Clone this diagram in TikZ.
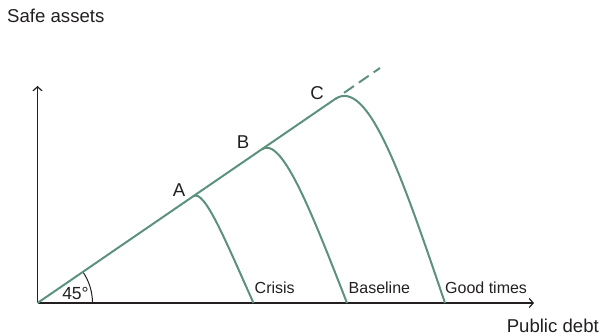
\documentclass[tikz,border=0pt]{standalone}
\usepackage{fontspec}
\setmainfont{Liberation Sans}
\usetikzlibrary{arrows.meta,calc}
\definecolor{curvegreen}{RGB}{92,146,124}
\definecolor{axisgray}{RGB}{35,31,32}
\tikzset{
  axisline/.style={draw=axisgray, line width=1.2pt, -{Straight Barb[length=4pt,width=9pt,line width=1.2pt]}},
  greenline/.style={draw=curvegreen, line width=2pt},
  lbl/.style={text=axisgray, font=\fontsize{18.6}{20}\selectfont, inner sep=0pt},
  curvelbl/.style={text=axisgray, font=\fontsize{16}{18}\selectfont, inner sep=0pt, anchor=west},
}
\begin{document}
\begin{tikzpicture}[x=1pt, y=-1pt]
\useasboundingbox (0,0) rectangle (602,336);
% key points
\coordinate (O) at (37.5,303);
\coordinate (Ytop) at (37.5,86);
\coordinate (Xend) at (534,303);
\coordinate (A) at (193.3,196.3);
\coordinate (B) at (261.7,149.3);
\coordinate (C) at (335,99.1);
\coordinate (D) at (380,68);
\coordinate (EA) at (253.5,303);
\coordinate (EB) at (347,303);
\coordinate (EC) at (445,303);
\coordinate (KA) at (202.6,189.9);
\coordinate (KB) at (281.7,135.6);
\coordinate (KC) at (368,76.4);
% axes
\draw[axisline] (O) -- (Ytop);
\draw[axisline] (O) -- (Xend);
% 45 degree arc
\draw[axisgray, line width=1pt] (92.5,303) arc[start angle=0, end angle=-34.5, radius=55];
% diagonal
\draw[greenline] (O) -- (C);
\draw[greenline, dash pattern=on 1.5pt off 9.5pt on 12pt off 6pt on 12pt off 6pt on 20pt off 20pt] (C) -- (D);
% curves
\draw[greenline] (A) .. controls ($(A)!1.2!(KA)$) and ($(EA)!0.55!(KA)$) .. (EA);
\draw[greenline] (B) .. controls (KB) and ($(EB)!0.55!(KB)$) .. (EB);
\draw[greenline] (C) .. controls (KC) and ($(EC)!0.55!(KC)$) .. (EC);
% labels
\node[lbl, anchor=west] (ylab) at (7,16) {Safe assets};
\node[lbl, anchor=east] (xlab) at (599,326) {Public debt};
\node[lbl] (la) at (179,190) {A};
\node[lbl] (lb) at (243,142.5) {B};
\node[lbl] (lc) at (317,93.5) {C};
\node[lbl, font=\fontsize{17.5}{19}\selectfont] (ang) at (75.5,293) {45°};
\node[curvelbl] (crisis) at (254.5,288) {Crisis};
\node[curvelbl] (base) at (348.5,288) {Baseline};
\node[curvelbl] (good) at (445,288) {Good times};
\end{tikzpicture}
\end{document}
